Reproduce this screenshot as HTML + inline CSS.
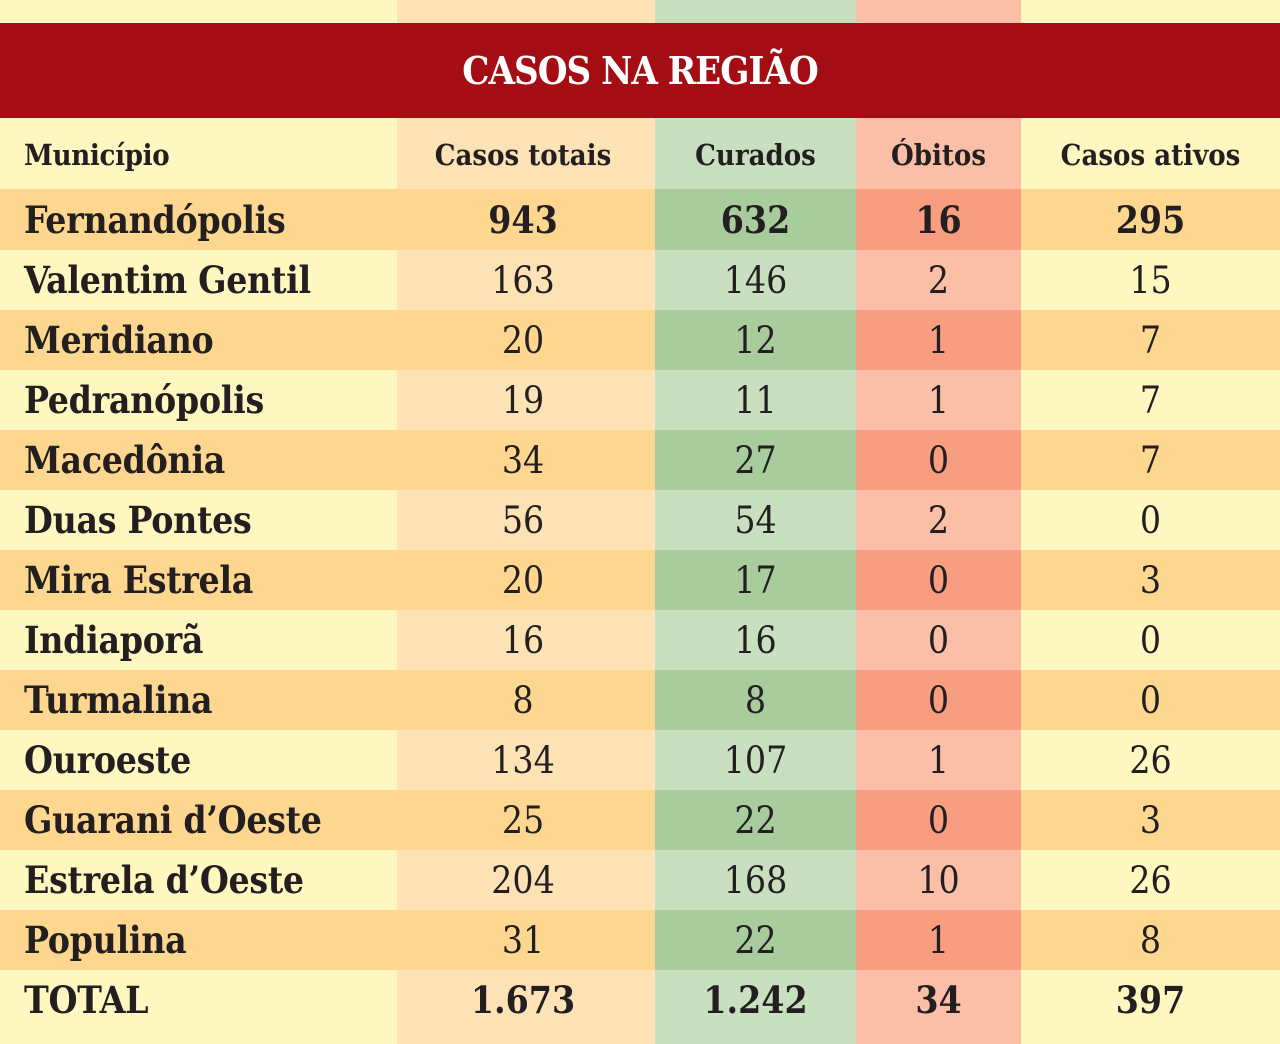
<!DOCTYPE html>
<html><head><meta charset="utf-8"><style>
body{margin:0;width:1280px;height:1044px;overflow:hidden;background:#fef7c0;font-family:"DejaVu Serif Condensed","DejaVu Serif","Liberation Serif",serif;color:#231f20;position:relative}
.col{position:absolute;top:0;height:1044px}
.title{position:absolute;left:0;top:23px;width:1280px;height:95px;background:#a50d14;color:#fff;font-weight:bold;font-size:38px;text-align:center;line-height:95px;letter-spacing:-1px}
.row{position:absolute;left:0;width:1280px;height:60px;display:flex}
.row div{height:100%;display:flex;align-items:center;justify-content:center;font-size:37px}
.row .n{width:373px;padding-left:24px;justify-content:flex-start;font-weight:bold;font-size:37px;letter-spacing:-0.3px}
.c1{width:252px;padding-right:6px}.c2{width:201px}.c3{width:165px}.c4{width:259px}
.d .n,.d .c1,.d .c4{background:#fdd690}.d .c2{background:#a8cc9c}.d .c3{background:#f89d7f}
.h div{font-weight:bold;font-size:29px}
.b div{font-weight:bold}
</style></head><body>
<div class="col" style="left:397px;width:258px;background:#fde2b6"></div>
<div class="col" style="left:655px;width:201px;background:#c8e0bf"></div>
<div class="col" style="left:856px;width:165px;background:#fbbfa8"></div>
<div class="title">CASOS NA REGIÃO</div>
<div class="row h" style="top:122px;height:66px"><div class="n" style="font-size:29px">Município</div><div class="c1">Casos totais</div><div class="c2">Curados</div><div class="c3">Óbitos</div><div class="c4">Casos ativos</div></div>
<div class="row d b" style="top:189px;height:61px"><div class="n">Fernandópolis</div><div class="c1">943</div><div class="c2">632</div><div class="c3">16</div><div class="c4">295</div></div>
<div class="row" style="top:250px"><div class="n">Valentim Gentil</div><div class="c1">163</div><div class="c2">146</div><div class="c3">2</div><div class="c4">15</div></div>
<div class="row d" style="top:310px"><div class="n">Meridiano</div><div class="c1">20</div><div class="c2">12</div><div class="c3">1</div><div class="c4">7</div></div>
<div class="row" style="top:370px"><div class="n">Pedranópolis</div><div class="c1">19</div><div class="c2">11</div><div class="c3">1</div><div class="c4">7</div></div>
<div class="row d" style="top:430px"><div class="n">Macedônia</div><div class="c1">34</div><div class="c2">27</div><div class="c3">0</div><div class="c4">7</div></div>
<div class="row" style="top:490px"><div class="n">Duas Pontes</div><div class="c1">56</div><div class="c2">54</div><div class="c3">2</div><div class="c4">0</div></div>
<div class="row d" style="top:550px"><div class="n">Mira Estrela</div><div class="c1">20</div><div class="c2">17</div><div class="c3">0</div><div class="c4">3</div></div>
<div class="row" style="top:610px"><div class="n">Indiaporã</div><div class="c1">16</div><div class="c2">16</div><div class="c3">0</div><div class="c4">0</div></div>
<div class="row d" style="top:670px"><div class="n">Turmalina</div><div class="c1">8</div><div class="c2">8</div><div class="c3">0</div><div class="c4">0</div></div>
<div class="row" style="top:730px"><div class="n">Ouroeste</div><div class="c1">134</div><div class="c2">107</div><div class="c3">1</div><div class="c4">26</div></div>
<div class="row d" style="top:790px"><div class="n">Guarani d’Oeste</div><div class="c1">25</div><div class="c2">22</div><div class="c3">0</div><div class="c4">3</div></div>
<div class="row" style="top:850px"><div class="n">Estrela d’Oeste</div><div class="c1">204</div><div class="c2">168</div><div class="c3">10</div><div class="c4">26</div></div>
<div class="row d" style="top:910px"><div class="n">Populina</div><div class="c1">31</div><div class="c2">22</div><div class="c3">1</div><div class="c4">8</div></div>
<div class="row b" style="top:970px"><div class="n">TOTAL</div><div class="c1">1.673</div><div class="c2">1.242</div><div class="c3">34</div><div class="c4">397</div></div>
</body></html>
